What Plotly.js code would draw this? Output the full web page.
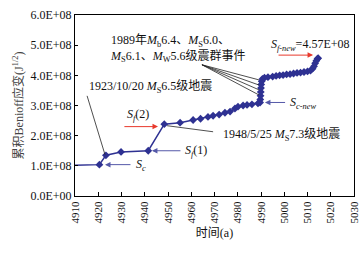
<!DOCTYPE html>
<html>
<head>
<meta charset="utf-8">
<script src="https://cdn.plot.ly/plotly-3.0.1.min.js"></script>
<style>html,body{margin:0;padding:0;background:#fff;}#chart{width:364px;height:255px;}</style>
</head>
<body>
<div id="chart"></div>
<script>
// Data (year, cumulative Benioff strain in units of 1e8 J^1/2)
const years = [4908, 4920.5, 4923.3, 4929.8, 4941.5, 4948.4, 4955.2, 4960.8, 4964, 4967.2, 4969.4, 4972, 4974.5, 4976.7, 4978.8, 4980.1, 4982.3, 4984, 4986.1, 4988.7,
  4989.6, 4989.7, 4989.8, 4989.9, 4990.0, 4990.1, 4990.3, 4990.6, 4991.5, 4993, 4995, 4996.5, 4998, 4999.5, 5001, 5002.5, 5004, 5005.5, 5007, 5008.5, 5010, 5011.3,
  5012.2, 5012.8, 5013.3, 5013.8, 5014.3, 5014.6];
const strainE8 = [1.02, 1.04, 1.35, 1.46, 1.50, 2.38, 2.43, 2.52, 2.56, 2.62, 2.66, 2.70, 2.76, 2.80, 2.90, 2.96, 3.00, 3.02, 3.04, 3.07,
  3.10, 3.20, 3.32, 3.45, 3.58, 3.70, 3.80, 3.88, 3.92, 3.94, 3.96, 3.98, 4.00, 4.01, 4.03, 4.04, 4.06, 4.08, 4.09, 4.11, 4.13, 4.16,
  4.22, 4.30, 4.40, 4.48, 4.55, 4.57];
const strain = strainE8.map(v => v * 1e8);

const yTickVals = [0, 1e8, 2e8, 3e8, 4e8, 5e8, 6e8];
const yTickText = ['0.0E+00', '1.0E+08', '2.0E+08', '3.0E+08', '4.0E+08', '5.0E+08', '6.0E+08'];
const xTickVals = [4910, 4920, 4930, 4940, 4950, 4960, 4970, 4980, 4990, 5000, 5010, 5020, 5030];

const FONT = 'Liberation Serif, Times New Roman, Noto Sans CJK SC, serif';
const BLUE = '#2e3192';
const ABLUE = '#5559a8';
const RED = '#e8392c';
const E8 = 1e8;

const trace = {
  x: years, y: strain, type: 'scatter', mode: 'lines+markers',
  line: {color: BLUE, width: 1.5},
  marker: {symbol: 'diamond', size: 6, color: BLUE},
  cliponaxis: true, hoverinfo: 'none'
};

function arrow(hx, hy, tx, ty, color) {
  return {x: hx, y: hy * E8, ax: tx, ay: ty * E8, xref: 'x', yref: 'y', axref: 'x', ayref: 'y',
    text: '', showarrow: true, arrowhead: 2, arrowsize: 1.1, arrowwidth: 1, arrowcolor: color};
}
function line(x0, y0, x1, y1) {
  return {type: 'line', xref: 'x', yref: 'y', x0: x0, y0: y0 * E8, x1: x1, y1: y1 * E8,
    line: {color: '#222', width: 0.8}};
}
function label(x, y, text, size, xanchor) {
  return {x: x, y: y * E8, xref: 'x', yref: 'y', text: text, showarrow: false,
    xanchor: xanchor || 'center', yanchor: 'middle', align: 'left',
    font: {family: FONT, size: size || 12, color: '#111'}};
}

const annotations = [
  label(4942.6, 3.6, '1923/10/20 <i>M</i><sub>S</sub>6.5级地震', 12),
  label(4924.4, 4.9, '1989年<i>M</i><sub>b</sub>6.4、<i>M</i><sub>S</sub>6.0、<br><i>M</i><sub>S</sub>6.1、<i>M</i><sub>W</sub>5.6级震群事件', 12, 'left'),
  label(5011, 5.0, '<i>S</i><sub><i>f-new</i></sub>=4.57E+08', 12),
  label(5001.8, 3.08, '<i>S</i><sub><i>c-new</i></sub>', 12, 'left'),
  label(4937, 2.68, '<i>S</i><sub><i>f</i></sub>(2)', 12),
  label(4998.6, 2.03, '1948/5/25 <i>M</i><sub>S</sub>7.3级地震', 12),
  label(4962.2, 1.5, '<i>S</i><sub><i>f</i></sub>(1)', 12),
  label(4938.4, 1.04, '<i>S</i><sub><i>c</i></sub>', 12),
  arrow(5012.4, 4.67, 4996.9, 4.67, RED),
  arrow(4991.7, 3.1, 5001.0, 3.1, ABLUE),
  arrow(4945.7, 2.3, 4930.6, 2.3, RED),
  arrow(4943.1, 1.5, 4956.0, 1.5, ABLUE),
  arrow(4922.9, 1.04, 4934.5, 1.04, ABLUE)
];

const shapes = [
  line(4915.2, 3.32, 4922.9, 1.37),
  line(4964.6, 4.35, 4989.1, 3.85),
  line(4964.6, 4.35, 4989.1, 3.68),
  line(4964.6, 4.35, 4989.1, 3.52),
  line(4964.6, 4.35, 4989.1, 3.35),
  line(4949.6, 2.33, 4969.4, 2.13)
];

const layout = {
  width: 364, height: 255,
  margin: {l: 75, r: 10, t: 15, b: 59},
  paper_bgcolor: '#fff', plot_bgcolor: '#fff',
  showlegend: false,
  font: {family: FONT, size: 12, color: '#111'},
  xaxis: {
    range: [4910, 5030], tickvals: xTickVals, ticktext: xTickVals.map(String),
    tickangle: -90, ticks: 'inside', ticklen: 4, tickcolor: '#000',
    showline: true, linecolor: '#000', linewidth: 1, mirror: true,
    showgrid: false, zeroline: false,
    tickfont: {family: FONT, size: 11, color: '#111'},
    title: {text: '时间(a)', font: {family: FONT, size: 12, color: '#111'}, standoff: 6}
  },
  yaxis: {
    range: [0, 6e8], tickvals: yTickVals, ticktext: yTickText,
    ticks: 'inside', ticklen: 3, tickcolor: '#000',
    showline: true, linecolor: '#000', linewidth: 1, mirror: true,
    showgrid: false, zeroline: false,
    tickfont: {family: FONT, size: 12, color: '#111'},
    title: {text: '累积Benioff应变(J<sup>1/2</sup>)', font: {family: FONT, size: 12, color: '#444'}, standoff: 4}
  },
  annotations: annotations,
  shapes: shapes
};

Plotly.newPlot('chart', [trace], layout, {displayModeBar: false, staticPlot: true});
</script>
</body>
</html>
